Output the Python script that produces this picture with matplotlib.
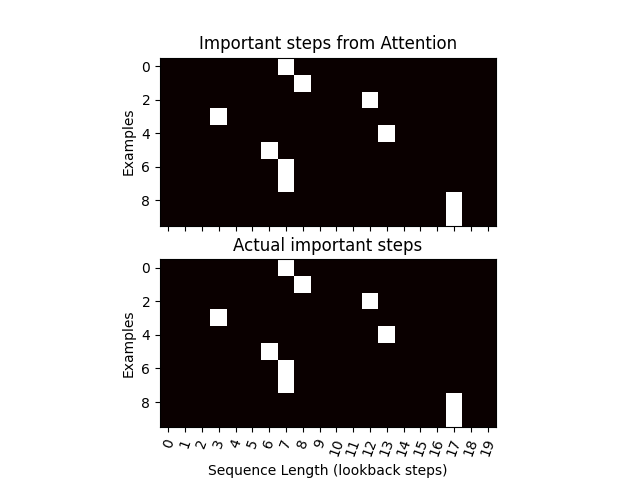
import numpy as np
import matplotlib
matplotlib.use("Agg")
import matplotlib.pyplot as plt

n_examples = 10
seq_len = 20
attention_steps = [7, 8, 12, 3, 13, 6, 7, 7, 17, 17]
actual_steps = [7, 8, 12, 3, 13, 6, 7, 7, 17, 17]

def to_grid(steps):
    g = np.zeros((n_examples, seq_len))
    for i, s in enumerate(steps):
        g[i, s] = 1
    return g

fig, axes = plt.subplots(2, 1, sharex=True, figsize=(6.4, 4.8), dpi=100)
for ax, steps, title in zip(axes, [attention_steps, actual_steps],
                            ["Important steps from Attention", "Actual important steps"]):
    ax.imshow(to_grid(steps), cmap="hot", interpolation="nearest")
    ax.set_title(title)
    ax.set_ylabel("Examples")
    ax.set_xticks(range(seq_len))
axes[1].set_xticklabels([str(i) for i in range(seq_len)], rotation=70)
axes[1].set_xlabel("Sequence Length (lookback steps)")
fig.savefig("out.png")
